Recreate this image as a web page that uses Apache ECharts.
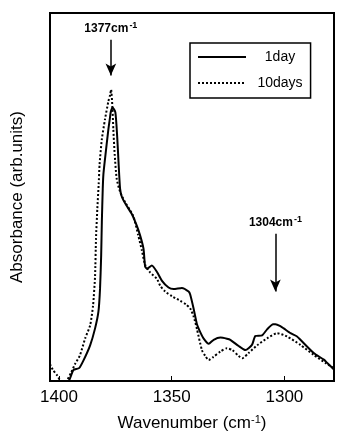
<!DOCTYPE html>
<html>
<head>
<meta charset="utf-8">
<script src="https://cdn.jsdelivr.net/npm/echarts@6/dist/echarts.min.js"></script>
<style>
  html, body { margin: 0; padding: 0; background: #fff; }
  #chart { width: 337px; height: 437px; }
</style>
</head>
<body>
<div id="chart"></div>
<script>
// IR spectrum, wavenumber (cm^-1) vs absorbance (arbitrary units)
const wavenumber1day = [1395.6, 1394.7, 1393.6, 1391.1, 1389.3, 1386.2, 1384.0, 1382.5, 1381.8, 1381.3, 1381.0, 1380.6, 1380.3, 1379.6, 1378.1, 1377.4, 1377.0, 1376.2, 1375.0, 1374.2, 1373.6, 1372.9, 1372.1, 1370.2, 1367.7, 1365.5, 1364.0, 1362.5, 1361.8, 1360.9, 1358.8, 1356.6, 1354.4, 1351.4, 1349.2, 1345.5, 1342.5, 1341.8, 1340.3, 1338.8, 1337.3, 1335.9, 1333.6, 1331.4, 1328.4, 1325.5, 1324.0, 1320.3, 1317.3, 1314.4, 1312.9, 1309.9, 1307.6, 1305.0, 1304.0, 1301.8, 1300.3, 1297.3, 1294.4, 1292.9, 1287.0, 1282.5, 1281.0, 1277.8];
const absorbance1day = [0, 1.4, 3.0, 3.5, 5.4, 9.7, 14.3, 18.9, 25.1, 34.1, 43.2, 52.2, 56.2, 60.3, 68.4, 71.5, 73.2, 74.3, 73.0, 66.5, 59.5, 52.2, 50.0, 47.8, 45.4, 42.2, 39.5, 35.9, 31.1, 30.5, 31.4, 29.7, 27.3, 25.4, 25.0, 25.3, 24.3, 23.5, 19.7, 15.4, 13.2, 11.6, 10.1, 11.2, 11.8, 11.5, 11.2, 9.5, 8.4, 9.8, 12.2, 12.4, 14.1, 15.4, 15.4, 14.9, 14.3, 13.0, 12.1, 11.2, 7.6, 5.8, 4.9, 3.0];

const wavenumber10days = [1404.0, 1402.7, 1400.9, 1399.1, 1396.9, 1394.7, 1392.9, 1390.7, 1388.4, 1386.2, 1384.9, 1384.0, 1383.6, 1383.0, 1382.4, 1382.0, 1381.0, 1379.6, 1378.1, 1377.3, 1376.9, 1376.3, 1375.9, 1375.3, 1374.4, 1372.9, 1370.7, 1367.1, 1364.9, 1363.2, 1361.8, 1359.6, 1356.6, 1355.1, 1352.9, 1349.8, 1346.2, 1343.6, 1341.8, 1340.3, 1338.8, 1336.6, 1335.1, 1333.6, 1331.6, 1328.4, 1325.5, 1323.1, 1320.3, 1318.7, 1315.9, 1312.1, 1307.7, 1303.2, 1298.8, 1292.9, 1287.0, 1281.8, 1277.8];
const absorbance10days = [4.6, 3.0, 1.6, 0, 0, 2.2, 4.6, 7.0, 11.6, 15.1, 20.5, 28.6, 38.6, 46.8, 53.5, 58.9, 65.7, 71.1, 76.0, 77.8, 79.2, 74.3, 68.4, 61.6, 54.9, 51.4, 48.6, 44.9, 39.7, 35.4, 31.6, 29.5, 27.8, 25.9, 24.3, 23.0, 21.8, 20.8, 19.7, 17.6, 14.1, 8.4, 6.8, 5.7, 6.5, 8.0, 8.9, 8.4, 6.8, 6.2, 7.6, 9.7, 11.6, 13.0, 12.1, 9.8, 7.1, 4.9, 3.4];

const xTickValues = [1300, 1350, 1400];

// Band positions pointed at by the arrows
const peakMain = 1377;
const peakMinor = 1304;

const FONT = '"Liberation Sans", Arial, Helvetica, sans-serif';

function pairs(xs, ys) {
  return xs.map((x, i) => [x, ys[i]]);
}

const supRich = {
  b: { fontFamily: FONT, fontSize: 12, fontWeight: 'bold', color: '#000', lineHeight: 16 },
  s: { fontFamily: FONT, fontSize: 9, fontWeight: 'bold', color: '#000', verticalAlign: 'top', lineHeight: 16, padding: [0, 0, 6, 1] }
};

const chart = echarts.init(document.getElementById('chart'), null, { renderer: 'canvas' });

chart.setOption({
  animation: false,
  backgroundColor: '#fff',
  grid: {
    left: 50, top: 13, right: 3, bottom: 54,
    show: true, borderColor: '#000', borderWidth: 2, backgroundColor: 'transparent'
  },
  legend: {
    left: 190, top: 43, orient: 'vertical',
    width: 128,
    itemWidth: 48, itemHeight: 14, itemGap: 12,
    padding: [7, 8, 8, 7],
    borderColor: '#000', borderWidth: 1.5,
    backgroundColor: '#fff',
    itemStyle: { opacity: 0 },
    data: ['1day', '10days'],
    formatter: '{c|{name}}',
    textStyle: {
      rich: { c: { fontFamily: FONT, fontSize: 14, color: '#000', width: 58, align: 'center' } }
    }
  },
  xAxis: {
    type: 'value', inverse: true, min: 1278, max: 1404,
    axisLine: { show: true, lineStyle: { color: '#000', width: 2 } },
    axisTick: { show: true, inside: true, length: 5, customValues: xTickValues, lineStyle: { color: '#000', width: 1 } },
    axisLabel: {
      customValues: xTickValues, formatter: v => String(v),
      fontFamily: FONT, fontSize: 17, color: '#000', margin: 8
    },
    splitLine: { show: false },
    name: 'Wavenumber (cm{s|-1})',
    nameLocation: 'middle', nameGap: 33,
    nameTextStyle: {
      fontFamily: FONT, fontSize: 17, color: '#000',
      rich: { s: { fontFamily: FONT, fontSize: 11, color: '#000', verticalAlign: 'top', padding: [0, 0, 8, 0] } }
    }
  },
  yAxis: {
    type: 'value', min: 0, max: 100,
    axisLine: { show: true, lineStyle: { color: '#000', width: 2 } },
    axisTick: { show: false },
    axisLabel: { show: false },
    splitLine: { show: false },
    name: 'Absorbance (arb.units)',
    nameLocation: 'middle', nameGap: 24,
    nameTextStyle: { fontFamily: FONT, fontSize: 17, color: '#000' }
  },
  series: [
    {
      name: '1day', type: 'line', data: pairs(wavenumber1day, absorbance1day),
      showSymbol: false, symbol: 'none', smooth: 0.2,
      lineStyle: { color: '#000', width: 2, type: 'solid' },
      itemStyle: { color: '#000' },
      markLine: {
        silent: true, animation: false,
        symbol: ['none', 'arrow'], symbolSize: [8, 12],
        lineStyle: { color: '#000', width: 1.5, type: 'solid' },
        label: {
          show: true, position: 'start', distance: 3,
          rich: supRich
        },
        data: [
          [
            { coord: [peakMain, 92.7], label: { formatter: '{b|' + peakMain + 'cm}{s|-1}' } },
            { coord: [peakMain, 83.0] }
          ],
          [
            { coord: [peakMinor, 40.0], label: { formatter: '{b|' + peakMinor + 'cm}{s|-1}' } },
            { coord: [peakMinor, 24.3] }
          ]
        ]
      }
    },
    {
      name: '10days', type: 'line', data: pairs(wavenumber10days, absorbance10days),
      showSymbol: false, symbol: 'none', smooth: 0.2,
      lineStyle: { color: '#000', width: 2, type: [2, 2] },
      itemStyle: { color: '#000' }
    }
  ]
});
</script>
</body>
</html>
